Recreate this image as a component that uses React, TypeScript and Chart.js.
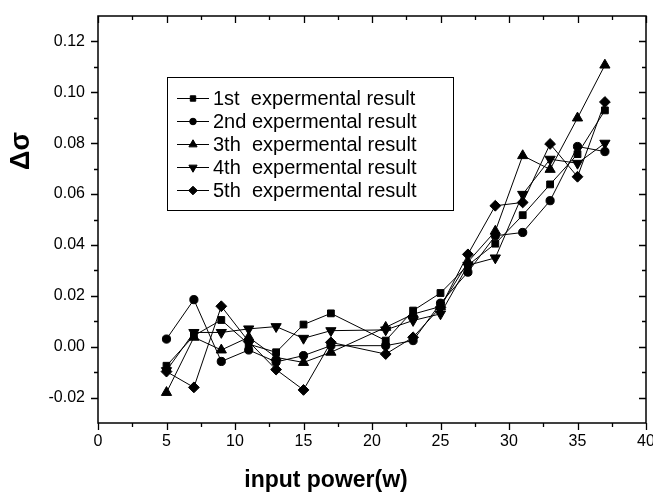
import React, { useEffect, useRef } from 'react';
import { Chart, registerables } from 'chart.js';

Chart.register(...registerables);

// ---- data ----
const inputPower = [5, 7, 9, 11, 13, 15, 17, 21, 23, 25, 27, 29, 31, 33, 35, 37];
const run1 = [-0.0075, 0.0043, 0.0105, 0.001, -0.0022, 0.0087, 0.0131, 0.0024, 0.0142, 0.0211, 0.032, 0.0405, 0.0517, 0.0638, 0.0757, 0.0929];
const run2 = [0.003, 0.0185, -0.0058, -0.0013, -0.006, -0.0035, 0.0004, 0.0004, 0.0024, 0.0171, 0.0293, 0.0436, 0.0449, 0.0574, 0.0787, 0.0767];
const run3 = [-0.018, 0.0037, -0.0013, 0.0037, -0.0042, -0.0062, -0.0022, 0.0076, 0.0128, 0.0158, 0.0333, 0.0454, 0.0751, 0.0697, 0.0899, 0.1107];
const run4 = [-0.0094, 0.0056, 0.0056, 0.007, 0.0079, 0.0033, 0.0063, 0.0066, 0.0103, 0.0129, 0.032, 0.0349, 0.0599, 0.0737, 0.0721, 0.08];
const run5 = [-0.0098, -0.016, 0.0159, 0.002, -0.009, -0.017, 0.0017, -0.0029, 0.0037, 0.0155, 0.0363, 0.0554, 0.0567, 0.0797, 0.0668, 0.0962];
const seriesLabels = [
  '1st  expermental result',
  '2nd expermental result',
  '3th  expermental result',
  '4th  expermental result',
  '5th  expermental result',
];
const xTickValues = [0, 5, 10, 15, 20, 25, 30, 35, 40];
const yTickValues = [-0.02, 0, 0.02, 0.04, 0.06, 0.08, 0.1, 0.12];
const xAxisTitle = 'input power(w)';
const yAxisTitle = 'Δσ';

// ---- styles ----
const FONT = '"Liberation Sans", Arial, Helvetica, sans-serif';
const markers = [
  { style: 'rect', radius: 4.8, rotation: 0 },
  { style: 'circle', radius: 4.1, rotation: 0 },
  { style: 'triangle', radius: 5.9, rotation: 0 },
  { style: 'triangle', radius: 5.9, rotation: 180 },
  { style: 'rectRot', radius: 5.4, rotation: 0 },
];

function drawMarker(ctx: CanvasRenderingContext2D, style: string, x: number, y: number, r: number, rot: number) {
  ctx.beginPath();
  if (style === 'rect') {
    const s = r * Math.SQRT1_2;
    ctx.rect(x - s, y - s, 2 * s, 2 * s);
  } else if (style === 'circle') {
    ctx.arc(x, y, r, 0, Math.PI * 2);
  } else if (style === 'triangle') {
    let a = (rot * Math.PI) / 180;
    ctx.moveTo(x + Math.sin(a) * r, y - Math.cos(a) * r);
    for (let k = 0; k < 2; k++) {
      a += (2 * Math.PI) / 3;
      ctx.lineTo(x + Math.sin(a) * r, y - Math.cos(a) * r);
    }
    ctx.closePath();
  } else {
    ctx.moveTo(x - r, y);
    ctx.lineTo(x, y - r);
    ctx.lineTo(x + r, y);
    ctx.lineTo(x, y + r);
    ctx.closePath();
  }
  ctx.fill();
  ctx.stroke();
}

const originPlugin = {
  id: 'originDecor',
  beforeDatasetsDraw(chart: any) {
    const { ctx, chartArea: a, scales } = chart;
    const xs = scales.x;
    const ys = scales.y;
    ctx.save();
    ctx.strokeStyle = '#000';
    ctx.lineWidth = 1.5;
    ctx.strokeRect(a.left, a.top, a.right - a.left, a.bottom - a.top);
    ctx.lineWidth = 1.3;
    ctx.beginPath();
    const major = 7;
    const minor = 4;
    xTickValues.forEach((v, i) => {
      const px = Math.round(xs.getPixelForValue(v)) + 0.5;
      ctx.moveTo(px, a.bottom); ctx.lineTo(px, a.bottom + major);
      ctx.moveTo(px, a.top); ctx.lineTo(px, a.top + major);
      if (i < xTickValues.length - 1) {
        const m = Math.round(xs.getPixelForValue((v + xTickValues[i + 1]) / 2)) + 0.5;
        ctx.moveTo(m, a.bottom); ctx.lineTo(m, a.bottom + minor);
        ctx.moveTo(m, a.top); ctx.lineTo(m, a.top + minor);
      }
    });
    const step = yTickValues[1] - yTickValues[0];
    yTickValues.forEach((v) => {
      const py = Math.round(ys.getPixelForValue(v)) + 0.5;
      ctx.moveTo(a.left, py); ctx.lineTo(a.left - major, py);
      ctx.moveTo(a.right, py); ctx.lineTo(a.right - major, py);
      [v - step / 2, v + step / 2].forEach((mv) => {
        if (mv <= ys.min + 1e-9 || mv >= ys.max - 1e-9) return;
        const m = Math.round(ys.getPixelForValue(mv)) + 0.5;
        ctx.moveTo(a.left, m); ctx.lineTo(a.left - minor, m);
        ctx.moveTo(a.right, m); ctx.lineTo(a.right - minor, m);
      });
    });
    ctx.stroke();
    ctx.restore();
  },
  afterDraw(chart: any) {
    const { ctx, chartArea: a } = chart;
    ctx.save();
    // legend box
    const bx = a.left + 69;
    const by = a.top + 61;
    const bw = 286;
    const bh = 133;
    ctx.fillStyle = '#fff';
    ctx.fillRect(bx, by, bw, bh);
    ctx.strokeStyle = '#000';
    ctx.lineWidth = 1;
    ctx.strokeRect(bx + 0.5, by + 0.5, bw, bh);
    ctx.font = `20px ${FONT}`;
    ctx.textBaseline = 'middle';
    ctx.textAlign = 'left';
    chart.data.datasets.forEach((ds: any, i: number) => {
      const y = by + 21 + i * 23;
      ctx.strokeStyle = '#000';
      ctx.fillStyle = '#000';
      ctx.lineWidth = 1;
      ctx.beginPath();
      ctx.moveTo(bx + 10, y + 0.5);
      ctx.lineTo(bx + 42, y + 0.5);
      ctx.stroke();
      const mk = markers[i];
      drawMarker(ctx, mk.style, bx + 26, y + 0.5, mk.radius * 0.8, mk.rotation);
      ctx.fillText(ds.label, bx + 46, y + 1);
    });
    // axis titles
    ctx.fillStyle = '#000';
    ctx.font = `bold 23px ${FONT}`;
    ctx.textAlign = 'center';
    ctx.textBaseline = 'middle';
    ctx.fillText(xAxisTitle, 326, 481);
    ctx.font = `bold 27px ${FONT}`;
    ctx.translate(22, 151);
    ctx.rotate(-Math.PI / 2);
    ctx.fillText(yAxisTitle, 0, 0);
    ctx.restore();
  },
};

export default function App() {
  const ref = useRef<HTMLCanvasElement>(null);
  useEffect(() => {
    if (!ref.current) return;
    const runs = [run1, run2, run3, run4, run5];
    const chart = new Chart(ref.current, {
      type: 'line',
      data: {
        datasets: runs.map((vals, i) => ({
          label: seriesLabels[i],
          data: inputPower.map((x, j) => ({ x, y: vals[j] })),
          borderColor: '#000',
          backgroundColor: '#000',
          borderWidth: 1,
          pointStyle: markers[i].style as any,
          pointRadius: markers[i].radius,
          pointRotation: markers[i].rotation,
          pointBorderWidth: 1,
          pointBorderColor: '#000',
          pointBackgroundColor: '#000',
          tension: 0,
          fill: false,
        })),
      },
      options: {
        animation: false,
        responsive: true,
        maintainAspectRatio: false,
        devicePixelRatio: 1,
        layout: { padding: { top: 16, right: 7, bottom: 0, left: 0 } },
        plugins: { legend: { display: false }, tooltip: { enabled: false } },
        scales: {
          x: {
            type: 'linear',
            min: 0,
            max: 40,
            afterBuildTicks: (s: any) => {
              s.ticks = xTickValues.map((v) => ({ value: v }));
            },
            afterFit: (s: any) => {
              s.height = 73;
              s.paddingLeft = 0;
              s.paddingRight = 0;
            },
            grid: { display: false, drawTicks: false },
            border: { display: false },
            ticks: {
              padding: 9,
              color: '#000',
              font: { family: FONT, size: 16 },
              maxRotation: 0,
              autoSkip: false,
              callback: (v: any) => String(v),
            },
          },
          y: {
            type: 'linear',
            min: -0.03,
            max: 0.13,
            afterBuildTicks: (s: any) => {
              s.ticks = yTickValues.map((v) => ({ value: v }));
            },
            afterFit: (s: any) => {
              s.width = 98;
              s.paddingTop = 0;
              s.paddingBottom = 0;
            },
            grid: { display: false, drawTicks: false },
            border: { display: false },
            ticks: {
              padding: 13,
              color: '#000',
              font: { family: FONT, size: 16 },
              autoSkip: false,
              callback: (v: any) => Number(v).toFixed(2),
            },
          },
        },
      },
      plugins: [originPlugin],
    } as any);
    return () => chart.destroy();
  }, []);
  return (
    <div style={{ position: 'absolute', left: 0, top: 0, width: 653, height: 496, background: '#fff' }}>
      <canvas ref={ref} />
    </div>
  );
}
